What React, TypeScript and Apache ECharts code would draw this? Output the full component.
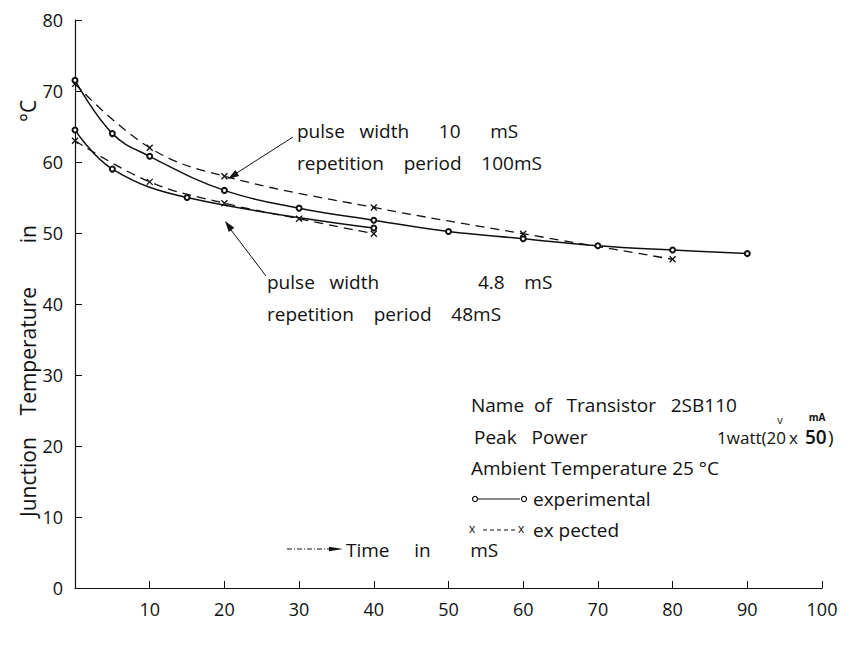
import React, { useEffect, useRef } from "react";
import * as echarts from "echarts";

// Upper pair: pulse width 10 mS, repetition period 100 mS
const upperExpTime = [0, 5, 10, 20, 30, 40, 50, 60, 70, 80, 90];
const upperExpTemp = [71.5, 64, 60.8, 56, 53.5, 51.8, 50.2, 49.2, 48.2, 47.6, 47.1];
const upperCalcTime = [0, 10, 20, 40, 60, 80];
const upperCalcTemp = [71, 62, 58, 53.6, 49.9, 46.3];

// Lower pair: pulse width 4.8 mS, repetition period 48 mS
const lowerExpTime = [0, 5, 15, 40];
const lowerExpTemp = [64.5, 59, 55, 50.7];
const lowerCalcTime = [0, 10, 20, 30, 40];
const lowerCalcTemp = [63, 57.2, 54.2, 52, 49.9];

const xTickLabels = ["", "10", "20", "30", "40", "50", "60", "70", "80", "90", "100"];
const yTickLabels = ["0", "10", "20", "30", "40", "50", "60", "70", "80"];

const FONT = "'Open Sans', 'DejaVu Sans', sans-serif";
const CROSS = "path://M0,0L10,10M10,0L0,10";
const INK = "#111";

const pairs = (xs: number[], ys: number[]) => xs.map((x, i) => [x, ys[i]]);

// page coords -> chart div coords (body margin 8px)
const P = (v: number) => v - 8;

export default function App() {
  const ref = useRef<HTMLDivElement>(null);
  useEffect(() => {
    if (!ref.current) return;
    const chart = echarts.init(ref.current, null, { renderer: "svg" });
    const txt = (x: number, y: number, text: string, size = 19, extra: any = {}) => ({
      type: "text",
      x: P(x),
      y: P(y),
      style: { text, fill: INK, font: `${size}px ${FONT}`, textVerticalAlign: "middle", ...extra },
    });
    const arrowHead = (tx: number, ty: number, fx: number, fy: number, len = 11, w = 3.5) => {
      const dx = tx - fx, dy = ty - fy;
      const d = Math.hypot(dx, dy);
      const ux = dx / d, uy = dy / d;
      const bx = tx - ux * len, by = ty - uy * len;
      return {
        type: "polygon",
        shape: {
          points: [
            [P(tx), P(ty)],
            [P(bx - uy * w), P(by + ux * w)],
            [P(bx + uy * w), P(by - ux * w)],
          ],
        },
        style: { fill: INK },
      };
    };
    const line = (x1: number, y1: number, x2: number, y2: number, extra: any = {}) => ({
      type: "line",
      shape: { x1: P(x1), y1: P(y1), x2: P(x2), y2: P(y2) },
      style: { stroke: INK, lineWidth: 1, ...extra },
    });
    chart.setOption({
      animation: false,
      backgroundColor: "#fff",
      grid: { left: 67, right: 34, top: 12, bottom: 56, containLabel: false },
      xAxis: {
        type: "value",
        min: 0,
        max: 100,
        interval: 10,
        axisLine: { show: true, onZero: false, lineStyle: { color: INK, width: 1.2 } },
        axisTick: { show: true, inside: true, length: 7, lineStyle: { color: INK } },
        splitLine: { show: false },
        axisLabel: {
          color: INK,
          fontFamily: FONT,
          fontSize: 18,
          margin: 12,
          formatter: (v: number) => xTickLabels[Math.round(v / 10)] ?? "",
        },
      },
      yAxis: {
        type: "value",
        min: 0,
        max: 80,
        interval: 10,
        axisLine: { show: true, lineStyle: { color: INK, width: 1.2 } },
        axisTick: { show: true, inside: true, length: 7, lineStyle: { color: INK } },
        splitLine: { show: false },
        axisLabel: {
          color: INK,
          fontFamily: FONT,
          fontSize: 18,
          margin: 12,
          formatter: (v: number) => yTickLabels[Math.round(v / 10)] ?? "",
        },
      },
      series: [
        {
          type: "line",
          data: pairs(upperExpTime, upperExpTemp),
          smooth: 0.4,
          symbol: "emptyCircle",
          symbolSize: 5,
          lineStyle: { color: INK, width: 1.5 },
          itemStyle: { color: INK, borderColor: INK, borderWidth: 1.5 },
        },
        {
          type: "line",
          data: pairs(upperCalcTime, upperCalcTemp),
          smooth: 0.4,
          symbol: CROSS,
          symbolSize: 6,
          lineStyle: { color: INK, width: 1.3, type: [9, 6] },
          itemStyle: { color: "none", borderColor: INK, borderWidth: 1.3 },
        },
        {
          type: "line",
          data: pairs(lowerExpTime, lowerExpTemp),
          smooth: 0.4,
          symbol: "emptyCircle",
          symbolSize: 5,
          lineStyle: { color: INK, width: 1.5 },
          itemStyle: { color: INK, borderColor: INK, borderWidth: 1.5 },
        },
        {
          type: "line",
          data: pairs(lowerCalcTime, lowerCalcTemp),
          smooth: 0.4,
          symbol: CROSS,
          symbolSize: 6,
          lineStyle: { color: INK, width: 1.3, type: [9, 6] },
          itemStyle: { color: "none", borderColor: INK, borderWidth: 1.3 },
        },
      ],
      graphic: [
        // y-axis title (rotated)
        {
          type: "text",
          x: P(28),
          y: P(517),
          rotation: Math.PI / 2,
          style: { text: "Junction    Temperature        in", fill: INK, font: `21px ${FONT}`, textVerticalAlign: "middle", textAlign: "left" },
        },
        {
          type: "text",
          x: P(28),
          y: P(122),
          rotation: Math.PI / 2,
          style: { text: "°C", fill: INK, font: `21px ${FONT}`, textVerticalAlign: "middle", textAlign: "left" },
        },
        // annotation: upper pair
        txt(297, 131, "pulse   width      10      mS"),
        txt(297, 163, "repetition    period    100mS"),
        line(293, 137, 232, 176),
        arrowHead(228, 179, 293, 137),
        // annotation: lower pair
        txt(267, 282, "pulse   width                    4.8    mS"),
        txt(267, 314, "repetition    period    48mS"),
        line(266, 276, 228, 226),
        arrowHead(225, 221, 266, 276),
        // info block
        txt(471, 405, "Name  of   Transistor   2SB110"),
        txt(474, 437, "Peak   Power"),
        txt(786, 437, "1watt(20", 17, { textAlign: "right" }),
        txt(789, 437, "x", 17),
        txt(805, 437, "50", 19, { font: `600 19px ${FONT}` }),
        txt(828, 437, ")"),
        txt(780, 419, "v", 11, { textAlign: "center" }),
        txt(817, 417, "mA", 10, { font: `700 10px ${FONT}`, textAlign: "center" }),
        txt(471, 468, "Ambient Temperature 25 °C"),
        { type: "circle", shape: { cx: P(475), cy: P(499), r: 2.5 }, style: { fill: "none", stroke: INK, lineWidth: 1.2 } },
        line(478, 499, 520, 499, { lineWidth: 1.2 }),
        { type: "circle", shape: { cx: P(524), cy: P(499), r: 2.5 }, style: { fill: "none", stroke: INK, lineWidth: 1.2 } },
        txt(533, 499, "experimental"),
        txt(469, 528, "x", 12),
        line(483, 530, 515, 530, { lineDash: [4, 3], lineWidth: 1.2 }),
        txt(518, 528, "x", 12),
        txt(533, 530, "ex pected"),
        // time arrow
        line(287, 549, 330, 549, { lineDash: [5, 2, 1, 2], lineWidth: 1 }),
        arrowHead(343, 549, 300, 549, 14, 2.2),
        txt(346, 550, "Time     in        mS"),
      ],
    });
    return () => chart.dispose();
  }, []);
  return <div ref={ref} style={{ width: 848, height: 636 }} />;
}
